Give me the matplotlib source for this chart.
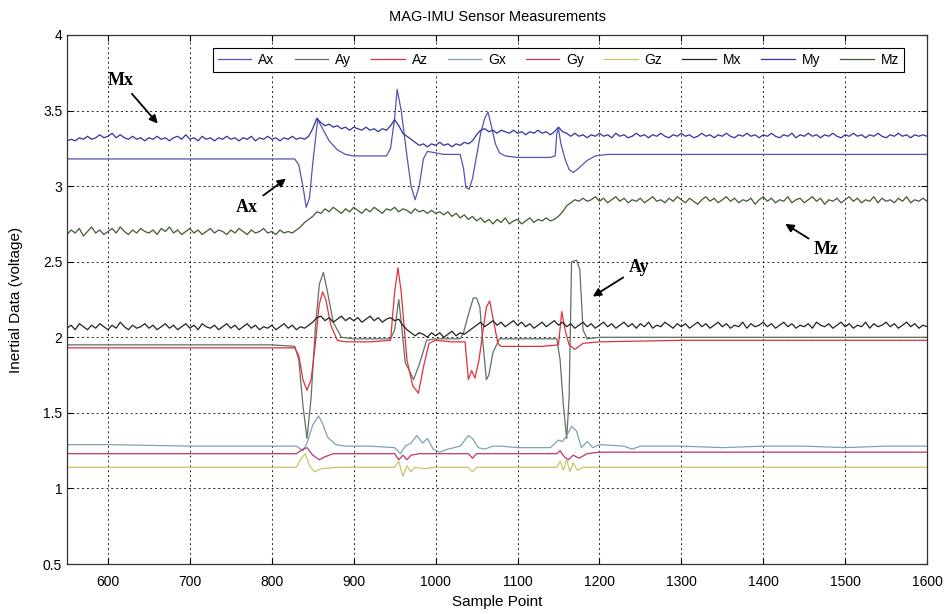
import numpy as np
import matplotlib
matplotlib.use("Agg")
import matplotlib.pyplot as plt

plt.rcParams['font.family'] = ['Liberation Sans', 'DejaVu Sans']

# ---- data ----
# noisy magnetometer channels, one value every 5 samples (550..1600)
mag_x = np.arange(550, 1601, 5)

my_vals = [
    3.30, 3.31, 3.30, 3.32, 3.31, 3.33, 3.31, 3.32, 3.34, 3.32,
    3.33, 3.35, 3.32, 3.34, 3.32, 3.31, 3.33, 3.31, 3.32, 3.30,
    3.32, 3.31, 3.33, 3.31, 3.32, 3.30, 3.32, 3.33, 3.31, 3.34,
    3.31, 3.32, 3.30, 3.33, 3.31, 3.32, 3.30, 3.32, 3.31, 3.33,
    3.31, 3.32, 3.30, 3.32, 3.31, 3.33, 3.30, 3.32, 3.31, 3.33,
    3.31, 3.32, 3.30, 3.32, 3.31, 3.33, 3.31, 3.32, 3.31, 3.33,
    3.38, 3.45, 3.42, 3.40, 3.41, 3.39, 3.40, 3.38, 3.39, 3.37,
    3.39, 3.38, 3.37, 3.39, 3.37, 3.38, 3.36, 3.38, 3.37, 3.40,
    3.44, 3.40, 3.35, 3.33, 3.31, 3.29, 3.27, 3.28, 3.26, 3.28,
    3.27, 3.29, 3.27, 3.28, 3.26, 3.28, 3.27, 3.29, 3.28, 3.30,
    3.34, 3.37, 3.38, 3.36, 3.37, 3.35, 3.37, 3.36, 3.35, 3.37,
    3.35, 3.36, 3.34, 3.36, 3.35, 3.37, 3.35, 3.36, 3.34, 3.36,
    3.39, 3.36, 3.35, 3.33, 3.35, 3.33, 3.34, 3.32, 3.34, 3.33,
    3.35, 3.33, 3.34, 3.32, 3.35, 3.33, 3.34, 3.32, 3.33, 3.35,
    3.33, 3.34, 3.32, 3.34, 3.33, 3.35, 3.33, 3.32, 3.34, 3.33,
    3.35, 3.33, 3.34, 3.32, 3.33, 3.35, 3.33, 3.34, 3.32, 3.34,
    3.33, 3.35, 3.33, 3.32, 3.34, 3.33, 3.35, 3.33, 3.34, 3.32,
    3.34, 3.33, 3.35, 3.33, 3.32, 3.34, 3.33, 3.35, 3.32, 3.34,
    3.33, 3.35, 3.33, 3.34, 3.32, 3.34, 3.33, 3.35, 3.33, 3.32,
    3.34, 3.33, 3.35, 3.33, 3.34, 3.32, 3.34, 3.33, 3.35, 3.33,
    3.32, 3.34, 3.33, 3.35, 3.33, 3.34, 3.32, 3.34, 3.33, 3.34,
    3.33,
]

mz_vals = [
    2.68, 2.71, 2.69, 2.72, 2.67, 2.70, 2.73, 2.69, 2.71, 2.68,
    2.70, 2.72, 2.69, 2.73, 2.70, 2.68, 2.71, 2.69, 2.72, 2.70,
    2.69, 2.71, 2.68, 2.72, 2.70, 2.73, 2.69, 2.71, 2.68, 2.70,
    2.72, 2.69, 2.71, 2.68, 2.70, 2.72, 2.69, 2.71, 2.70, 2.68,
    2.71, 2.69, 2.72, 2.70, 2.68, 2.71, 2.69, 2.70, 2.72, 2.69,
    2.70, 2.68, 2.71, 2.69, 2.70, 2.69, 2.71, 2.73, 2.76, 2.78,
    2.80, 2.83, 2.82, 2.85, 2.83, 2.86, 2.84, 2.82, 2.85, 2.83,
    2.86, 2.84, 2.82, 2.85, 2.83, 2.86, 2.84, 2.82, 2.85, 2.84,
    2.86, 2.83, 2.85, 2.84, 2.82, 2.85, 2.83, 2.84, 2.82, 2.84,
    2.82, 2.83, 2.81, 2.83, 2.80, 2.82, 2.79, 2.81, 2.78, 2.80,
    2.77, 2.79, 2.76, 2.78, 2.75, 2.78, 2.76, 2.79, 2.75, 2.77,
    2.78, 2.75, 2.77, 2.79, 2.76, 2.78, 2.77, 2.79, 2.77, 2.78,
    2.80, 2.83, 2.87, 2.89, 2.91, 2.90, 2.92, 2.90, 2.91, 2.93,
    2.90, 2.92, 2.89, 2.91, 2.93, 2.90, 2.92, 2.89, 2.91, 2.90,
    2.92, 2.89, 2.91, 2.93, 2.90, 2.91, 2.89, 2.92, 2.90, 2.93,
    2.91, 2.89, 2.92, 2.90, 2.88, 2.91, 2.93, 2.90, 2.92, 2.89,
    2.91, 2.93, 2.90, 2.92, 2.89, 2.91, 2.90, 2.92, 2.88, 2.91,
    2.93, 2.90, 2.92, 2.89, 2.91, 2.90, 2.93, 2.89, 2.91, 2.92,
    2.89, 2.91, 2.93, 2.90, 2.92, 2.88, 2.91, 2.90, 2.92, 2.89,
    2.91, 2.93, 2.90, 2.92, 2.89, 2.91, 2.90, 2.93, 2.89, 2.92,
    2.90, 2.91, 2.89, 2.92, 2.90, 2.93, 2.89, 2.91, 2.90, 2.92,
    2.90,
]

mx_vals = [
    2.06, 2.08, 2.05, 2.09, 2.07, 2.05, 2.08, 2.06, 2.09, 2.07,
    2.05, 2.08, 2.06, 2.10, 2.07, 2.05, 2.08, 2.06, 2.07, 2.09,
    2.06, 2.08, 2.05, 2.07, 2.09, 2.06, 2.08, 2.05, 2.07, 2.09,
    2.06, 2.08, 2.05, 2.09, 2.07, 2.06, 2.08, 2.05, 2.07, 2.09,
    2.06, 2.08, 2.05, 2.07, 2.09, 2.06, 2.08, 2.05, 2.07, 2.06,
    2.08, 2.05, 2.07, 2.09, 2.06, 2.08, 2.05, 2.07, 2.06, 2.08,
    2.10, 2.13, 2.14, 2.11, 2.13, 2.10, 2.12, 2.14, 2.11, 2.13,
    2.11, 2.13, 2.10, 2.12, 2.14, 2.11, 2.13, 2.10, 2.12, 2.13,
    2.11, 2.12, 2.08, 2.05, 2.03, 2.01, 2.03, 2.02, 2.00, 2.03,
    2.01, 2.03, 2.00, 2.02, 2.04, 2.01, 2.03, 2.02, 2.04, 2.06,
    2.08, 2.10, 2.07, 2.09, 2.11, 2.08, 2.10, 2.07, 2.09, 2.11,
    2.08, 2.10, 2.07, 2.09, 2.06, 2.08, 2.10, 2.07, 2.09, 2.11,
    2.08, 2.10, 2.07, 2.09, 2.06, 2.08, 2.10, 2.07, 2.09, 2.06,
    2.08, 2.10, 2.07, 2.09, 2.06, 2.08, 2.10, 2.07, 2.09, 2.06,
    2.09, 2.07, 2.10, 2.06, 2.08, 2.07, 2.10, 2.08, 2.06, 2.09,
    2.07, 2.09, 2.06, 2.08, 2.10, 2.07, 2.09, 2.06, 2.08, 2.10,
    2.07, 2.09, 2.06, 2.08, 2.07, 2.10, 2.06, 2.09, 2.07, 2.08,
    2.10, 2.07, 2.09, 2.06, 2.08, 2.10, 2.07, 2.09, 2.06, 2.08,
    2.07, 2.09, 2.06, 2.10, 2.08, 2.07, 2.09, 2.06, 2.08, 2.10,
    2.07, 2.09, 2.06, 2.08, 2.07, 2.10, 2.06, 2.09, 2.07, 2.08,
    2.10, 2.07, 2.09, 2.06, 2.08, 2.10, 2.07, 2.09, 2.06, 2.08,
    2.07,
]

# smoother accelerometer / gyro channels, read at turning points
ax_x = [550, 600, 650, 700, 750, 800, 828, 833, 838, 842, 846, 850, 856, 862, 870,
        880, 890, 900, 920, 940, 945, 950, 953, 958, 965, 970, 975, 980, 985, 990,
        1000, 1010, 1020, 1030, 1034, 1037, 1041, 1045, 1050, 1055, 1060, 1064, 1068,
        1073, 1078, 1085, 1100, 1120, 1140, 1146, 1148, 1150, 1153, 1158, 1163, 1168,
        1175, 1185, 1195, 1210, 1250, 1300, 1400, 1500, 1600]
ax_vals = [3.18, 3.18, 3.18, 3.18, 3.18, 3.18, 3.18, 3.14, 3.00, 2.86, 2.92, 3.15, 3.44,
           3.38, 3.30, 3.24, 3.21, 3.20, 3.20, 3.20, 3.25, 3.45, 3.64, 3.50, 3.20, 3.00,
           2.91, 3.00, 3.18, 3.23, 3.22, 3.21, 3.21, 3.21, 3.12, 2.99, 2.98, 3.05, 3.20,
           3.35, 3.45, 3.49, 3.40, 3.28, 3.22, 3.20, 3.19, 3.19, 3.19, 3.20, 3.35, 3.38,
           3.28, 3.18, 3.11, 3.09, 3.12, 3.17, 3.20, 3.21, 3.21, 3.21, 3.21, 3.21, 3.21]

ay_x = [550, 600, 700, 800, 828, 833, 838, 843, 848, 853, 858, 863, 868, 875, 885,
        900, 945, 950, 955, 959, 963, 968, 973, 980, 989, 1000, 1030, 1034, 1040, 1046,
        1050, 1054, 1058, 1062, 1065, 1070, 1078, 1090, 1120, 1148, 1152, 1156, 1160,
        1163, 1166, 1172, 1176, 1180, 1185, 1200, 1300, 1400, 1500, 1600]
ay_vals = [1.95, 1.95, 1.95, 1.95, 1.94, 1.85, 1.55, 1.33, 1.60, 2.05, 2.35, 2.43, 2.30,
           2.10, 2.00, 1.99, 1.99, 2.05, 2.25, 2.05, 1.83, 1.78, 1.72, 1.82, 1.98, 1.99,
           1.99, 2.03, 2.15, 2.26, 2.26, 2.20, 1.95, 1.72, 1.75, 1.90, 1.99, 1.99, 1.99,
           1.99, 1.85, 1.55, 1.33, 1.60, 2.50, 2.51, 2.45, 2.05, 1.99, 2.00, 2.00, 2.00,
           2.00, 2.00]

az_x = [550, 600, 700, 800, 828, 833, 838, 843, 848, 853, 858, 862, 866, 872, 880,
        890, 920, 945, 950, 954, 958, 965, 972, 979, 985, 992, 1000, 1020, 1036, 1040,
        1044, 1048, 1053, 1058, 1062, 1066, 1071, 1076, 1080, 1100, 1130, 1150, 1154,
        1158, 1163, 1170, 1180, 1200, 1300, 1400, 1500, 1600]
az_vals = [1.93, 1.93, 1.93, 1.93, 1.93, 1.88, 1.72, 1.65, 1.72, 1.95, 2.22, 2.30, 2.25,
           2.08, 1.98, 1.97, 1.97, 1.98, 2.30, 2.46, 2.30, 1.85, 1.68, 1.63, 1.80, 1.96,
           1.98, 1.97, 1.97, 1.72, 1.78, 1.73, 1.85, 2.05, 2.20, 2.24, 2.10, 1.96, 1.94,
           1.94, 1.94, 1.95, 2.17, 2.05, 1.95, 1.92, 1.96, 1.97, 1.98, 1.98, 1.98, 1.98]

gx_x = [550, 600, 700, 800, 830, 838, 843, 850, 857, 862, 868, 878, 890, 920, 950,
        957, 963, 970, 977, 984, 990, 997, 1005, 1015, 1030, 1040, 1045, 1052, 1060,
        1070, 1080, 1100, 1140, 1150, 1155, 1160, 1166, 1172, 1178, 1185, 1192, 1200,
        1230, 1240, 1250, 1300, 1350, 1400, 1450, 1500, 1550, 1600]
gx_vals = [1.29, 1.29, 1.28, 1.28, 1.28, 1.25, 1.30, 1.42, 1.48, 1.43, 1.34, 1.29, 1.28,
           1.28, 1.27, 1.23, 1.28, 1.30, 1.35, 1.30, 1.33, 1.26, 1.24, 1.26, 1.28, 1.35,
           1.33, 1.27, 1.26, 1.28, 1.28, 1.27, 1.27, 1.32, 1.31, 1.35, 1.41, 1.38, 1.27,
           1.31, 1.27, 1.29, 1.28, 1.26, 1.28, 1.28, 1.27, 1.28, 1.28, 1.27, 1.28, 1.28]

gy_x = [550, 700, 830, 838, 843, 850, 858, 865, 875, 890, 950, 955, 960, 965, 970,
        980, 1000, 1040, 1045, 1050, 1060, 1100, 1148, 1152, 1157, 1162, 1168, 1175,
        1185, 1200, 1600]
gy_vals = [1.23, 1.23, 1.23, 1.26, 1.27, 1.22, 1.19, 1.21, 1.23, 1.23, 1.23, 1.19, 1.22,
           1.19, 1.22, 1.23, 1.23, 1.23, 1.20, 1.23, 1.23, 1.23, 1.23, 1.25, 1.21, 1.19,
           1.22, 1.20, 1.23, 1.24, 1.24]

gz_x = [550, 700, 830, 836, 841, 846, 852, 860, 880, 950, 955, 960, 965, 970, 975,
        985, 1000, 1040, 1045, 1050, 1100, 1148, 1152, 1156, 1160, 1164, 1168, 1173,
        1180, 1200, 1600]
gz_vals = [1.14, 1.14, 1.14, 1.20, 1.23, 1.15, 1.11, 1.13, 1.14, 1.14, 1.18, 1.08, 1.15,
           1.11, 1.14, 1.13, 1.14, 1.14, 1.11, 1.14, 1.14, 1.14, 1.18, 1.12, 1.19, 1.11,
           1.17, 1.12, 1.14, 1.14, 1.14]

x_ticks = [600, 700, 800, 900, 1000, 1100, 1200, 1300, 1400, 1500, 1600]
y_ticks = [0.5, 1, 1.5, 2, 2.5, 3, 3.5, 4]

# ---- figure ----
fig = plt.figure(figsize=(9.52, 6.14), dpi=100)
ax = fig.add_axes([0.0704, 0.0814, 0.9034, 0.8616])

lw = 0.9
ax.plot(ax_x, ax_vals, color='#5454b4', lw=lw, label='Ax')
ax.plot(ay_x, ay_vals, color='#5e7262', lw=lw, label='Ay')
ax.plot(az_x, az_vals, color='#e0303e', lw=lw, label='Az')
ax.plot(gx_x, gx_vals, color='#7fa2b2', lw=lw, label='Gx')
ax.plot(gy_x, gy_vals, color='#c0346c', lw=lw, label='Gy')
ax.plot(gz_x, gz_vals, color='#cbc46a', lw=lw, label='Gz')
ax.plot(mag_x, mx_vals, color='#222222', lw=lw, label='Mx')
ax.plot(mag_x, my_vals, color='#33339e', lw=lw, label='My')
ax.plot(mag_x, mz_vals, color='#3d5c30', lw=lw, label='Mz')

ax.set_xlim(550, 1600)
ax.set_ylim(0.5, 4)
ax.set_xticks(x_ticks)
ax.set_yticks(y_ticks)
ax.set_yticklabels(['0.5', '1', '1.5', '2', '2.5', '3', '3.5', '4'])
ax.tick_params(direction='in', top=True, right=True, labelsize=10, length=4)
ax.tick_params(axis='x', pad=8)
ax.grid(True, color='k', linestyle=(0, (2, 3)), linewidth=0.7, alpha=0.85)
for s in ax.spines.values():
    s.set_linewidth(0.9)
    s.set_color('#333333')

ax.set_title('MAG-IMU Sensor Measurements', fontsize=10.5, pad=10)
ax.set_xlabel('Sample Point', fontsize=11, labelpad=4)
ax.set_ylabel('Inertial Data (voltage)', fontsize=11, labelpad=14)

leg = ax.legend(ncol=9, loc='upper right', bbox_to_anchor=(0.973, 0.975),
                borderaxespad=0, fontsize=10, handlelength=2.4, handletextpad=0.5,
                columnspacing=1.45, fancybox=False, framealpha=1, edgecolor='k',
                borderpad=0.35)
leg.get_frame().set_linewidth(0.8)

# annotations with arrows
note_font = dict(family=['Liberation Serif', 'DejaVu Serif'], fontsize=13,
                 fontweight='bold')
arrow = dict(arrowstyle='-|>', color='k', lw=1.3, mutation_scale=12)
ax.annotate('Mx', xy=(663, 3.40), xytext=(615, 3.70), ha='center', va='center',
            arrowprops=arrow, **note_font)
ax.annotate('Ax', xy=(820, 3.06), xytext=(770, 2.86), ha='center', va='center',
            arrowprops=arrow, **note_font)
ax.annotate('Ay', xy=(1189, 2.26), xytext=(1248, 2.46), ha='center', va='center',
            arrowprops=arrow, **note_font)
ax.annotate('Mz', xy=(1424, 2.76), xytext=(1477, 2.58), ha='center', va='center',
            arrowprops=arrow, **note_font)

fig.savefig('out.png', dpi=100)
